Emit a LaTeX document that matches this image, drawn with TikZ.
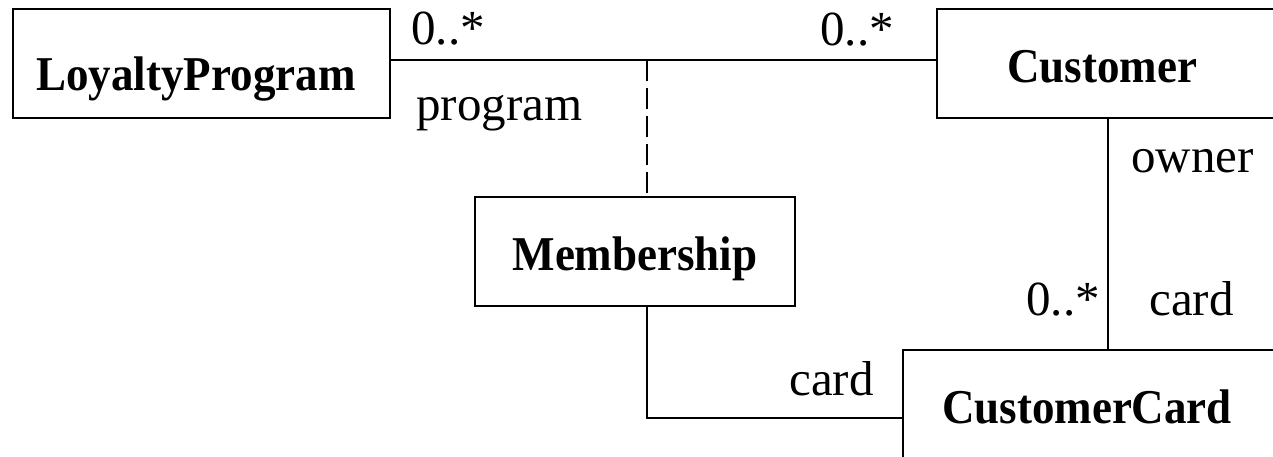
\documentclass[tikz,border=0pt]{standalone}
\usepackage{fontspec}
\setmainfont{Liberation Serif}
\begin{document}
\begin{tikzpicture}[x=1pt,y=-1pt,
  line width=2.8pt,
  classbox/.style={draw, rectangle, inner sep=0pt, outer sep=0pt},
  classname/.style={anchor=base, inner sep=0pt, transform shape, yscale=1.08,
    font=\fontsize{45}{50}\selectfont\bfseries},
  role/.style={anchor=base west, inner sep=0pt, font=\fontsize{49}{54}\selectfont}]
\useasboundingbox (0,0) rectangle (1273,457);
\clip (0,0) rectangle (1273,457);
% class boxes
\node[classbox, minimum width=377pt, minimum height=109pt] (lp) at (201.5,63.5) {};
\node[classbox, minimum width=400pt, minimum height=109pt] (cust) at (1137,63.5) {};
\node[classbox, minimum width=320pt, minimum height=109pt] (memb) at (635,251.5) {};
\node[classbox, minimum width=420pt, minimum height=140pt] (card) at (1113,420) {};
% class names
\node[classname] (lpname) at (196,91) {LoyaltyProgram};
\node[classname] (custname) at (1102,83) {Customer};
\node[classname] (membname) at (635,270) {Membership};
\node[classname] (cardname) at (1087,423) {CustomerCard};
% attachment points
\coordinate (assoc) at (647,60);
\coordinate (ownerx) at (1108,0);
% associations
\draw ([yshift=3.5pt]lp.east) -- ([yshift=3.5pt]cust.west);
\draw[dash pattern=on 21pt off 7pt] (assoc) -- (assoc |- memb.north);
\draw (memb.south -| assoc) |- ([yshift=2pt]card.west);
\draw (cust.south -| ownerx) -- (card.north -| ownerx);
% role names and multiplicities
\node[role] (m1) at (410,45) {0..*};
\node[role] (r1) at (415,121) {program};
\node[role] (m2) at (819,46) {0..*};
\node[role] (r2) at (1130,173) {owner};
\node[role] (m3) at (1025,315) {0..*};
\node[role] (r3) at (1148,315) {card};
\node[role] (r4) at (788,395) {card};
\end{tikzpicture}
\end{document}
